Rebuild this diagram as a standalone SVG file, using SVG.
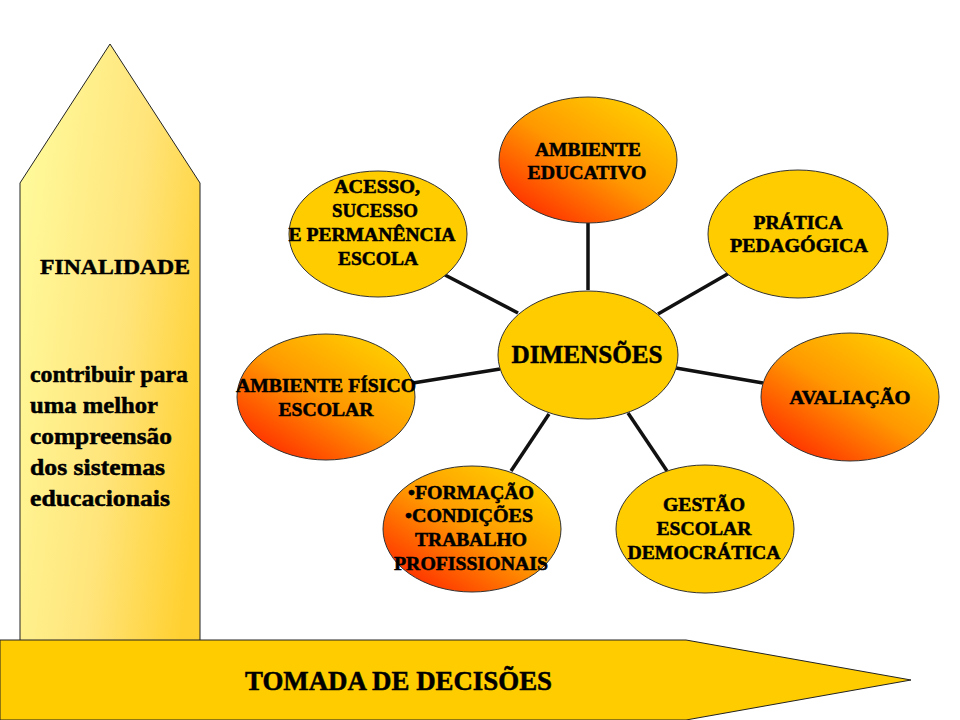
<svg xmlns="http://www.w3.org/2000/svg" width="960" height="720" viewBox="0 0 960 720">
<style>
.t{font-family:"Liberation Serif","Times New Roman",serif;font-weight:bold;fill:#000;stroke:#000;stroke-width:0.5}
.e{font-size:18px;text-anchor:middle}
.y{fill:#FFCC00;stroke:#333;stroke-width:1}
.g{fill:url(#og);stroke:#333;stroke-width:1}
.c line{stroke:#111;stroke-width:3.5}
</style>
<defs>
<linearGradient id="vg" x1="0" y1="0.3" x2="1" y2="0.7">
<stop offset="0" stop-color="#FFF99A"/>
<stop offset="0.55" stop-color="#FFE47A"/>
<stop offset="1" stop-color="#FFD030"/>
</linearGradient>
<linearGradient id="og" x1="0.15" y1="0.9" x2="0.85" y2="0.1">
<stop offset="0" stop-color="#FF3300"/>
<stop offset="0.5" stop-color="#FF9900"/>
<stop offset="1" stop-color="#FFCC00"/>
</linearGradient>
</defs>
<rect width="960" height="720" fill="#fff"/>
<g id="finalidade">
<polygon points="20,183 110,44 200,183 200,660 20,660" fill="url(#vg)" stroke="#222" stroke-width="1"/>
<text class="t" x="40" y="274" font-size="22" textLength="150" lengthAdjust="spacingAndGlyphs">FINALIDADE</text>
<g class="t" font-size="24">
<text x="30" y="382" textLength="158" lengthAdjust="spacingAndGlyphs">contribuir para</text>
<text x="30" y="413" textLength="128" lengthAdjust="spacingAndGlyphs">uma melhor</text>
<text x="30" y="444" textLength="142" lengthAdjust="spacingAndGlyphs">compreensão</text>
<text x="30" y="475" textLength="135" lengthAdjust="spacingAndGlyphs">dos sistemas</text>
<text x="30" y="506" textLength="140" lengthAdjust="spacingAndGlyphs">educacionais</text>
</g>
</g>
<g id="tomada">
<polygon points="0,640 686,640 911,680 686,720 0,720" fill="#FFCC00" stroke="#222" stroke-width="1"/>
<text class="t" x="245" y="690" font-size="27" textLength="307" lengthAdjust="spacingAndGlyphs">TOMADA DE DECISÕES</text>
</g>
<g class="c" id="connectors">
<line x1="588" y1="290" x2="588" y2="223"/>
<line x1="658" y1="314" x2="731" y2="272"/>
<line x1="518" y1="313" x2="445" y2="275"/>
<line x1="500" y1="369" x2="413" y2="383"/>
<line x1="676" y1="368" x2="763" y2="383"/>
<line x1="549" y1="414" x2="511" y2="471"/>
<line x1="628" y1="413" x2="667" y2="471"/>
</g>
<g id="ambiente-educativo">
<ellipse class="g" cx="588" cy="160" rx="89" ry="63"/>
<text class="t e" x="588" y="156" textLength="106" lengthAdjust="spacingAndGlyphs">AMBIENTE</text>
<text class="t e" x="587" y="179" textLength="119" lengthAdjust="spacingAndGlyphs">EDUCATIVO</text>
</g>
<g id="pratica">
<ellipse class="y" cx="798" cy="234" rx="90" ry="64"/>
<text class="t e" x="798" y="229" textLength="89" lengthAdjust="spacingAndGlyphs">PRÁTICA</text>
<text class="t e" x="799" y="252" textLength="138" lengthAdjust="spacingAndGlyphs">PEDAGÓGICA</text>
</g>
<g id="acesso">
<ellipse class="y" cx="378" cy="234" rx="89" ry="63"/>
<text class="t e" x="377" y="193" textLength="86" lengthAdjust="spacingAndGlyphs">ACESSO,</text>
<text class="t e" x="375" y="217" textLength="86" lengthAdjust="spacingAndGlyphs">SUCESSO</text>
<text class="t e" x="372" y="241" textLength="167" lengthAdjust="spacingAndGlyphs">E PERMANÊNCIA</text>
<text class="t e" x="378" y="265" textLength="80" lengthAdjust="spacingAndGlyphs">ESCOLA</text>
</g>
<g id="dimensoes">
<ellipse class="y" cx="588" cy="355" rx="90" ry="64"/>
<text class="t" x="587" y="363" font-size="26" text-anchor="middle" textLength="151" lengthAdjust="spacingAndGlyphs">DIMENSÕES</text>
</g>
<g id="ambiente-fisico">
<ellipse class="g" cx="326" cy="397" rx="89" ry="63"/>
<text class="t e" x="326" y="392" textLength="180" lengthAdjust="spacingAndGlyphs">AMBIENTE FÍSICO</text>
<text class="t e" x="326" y="416" textLength="95" lengthAdjust="spacingAndGlyphs">ESCOLAR</text>
</g>
<g id="avaliacao">
<ellipse class="g" cx="850" cy="397" rx="89" ry="64"/>
<text class="t e" x="850" y="404" textLength="121" lengthAdjust="spacingAndGlyphs">AVALIAÇÃO</text>
</g>
<g id="formacao">
<ellipse class="g" cx="472" cy="529" rx="89" ry="63"/>
<text class="t e" x="471" y="499" textLength="126" lengthAdjust="spacingAndGlyphs">•FORMAÇÃO</text>
<text class="t e" x="469" y="522" textLength="128" lengthAdjust="spacingAndGlyphs">•CONDIÇÕES</text>
<text class="t e" x="471" y="546" textLength="112" lengthAdjust="spacingAndGlyphs">TRABALHO</text>
<text class="t e" x="471" y="570" textLength="154" lengthAdjust="spacingAndGlyphs">PROFISSIONAIS</text>
</g>
<g id="gestao">
<ellipse class="y" cx="705" cy="529" rx="89" ry="64"/>
<text class="t e" x="704" y="511" textLength="82" lengthAdjust="spacingAndGlyphs">GESTÃO</text>
<text class="t e" x="704" y="535" textLength="95" lengthAdjust="spacingAndGlyphs">ESCOLAR</text>
<text class="t e" x="704" y="559" textLength="153" lengthAdjust="spacingAndGlyphs">DEMOCRÁTICA</text>
</g>
</svg>
